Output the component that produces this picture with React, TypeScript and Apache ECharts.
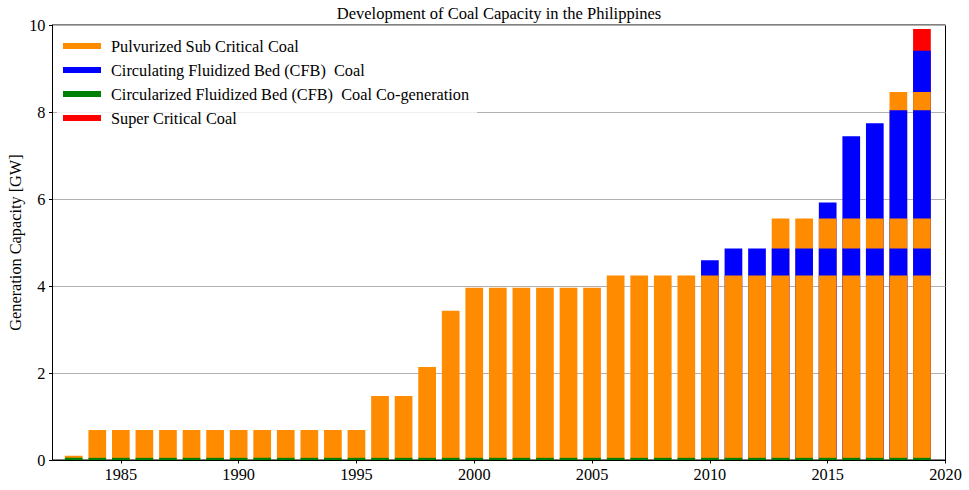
import React, { useEffect, useRef } from "react";
import * as echarts from "echarts";

const years = Array.from({ length: 37 }, (_, i) => 1983 + i);

// per-year stacked segments (GW), bottom to top
const coGeneration = years.map(() => 0.05);
const pulverizedBase = [
  0.05, 0.64, 0.64, 0.64, 0.64, 0.64, 0.64, 0.64, 0.64, 0.64, 0.64, 0.64, 0.64,
  1.42, 1.42, 2.09, 3.38, 3.91, 3.91, 3.91, 3.91, 3.91, 3.91,
  4.19, 4.19, 4.19, 4.19, 4.19, 4.19, 4.19, 4.19, 4.19, 4.19, 4.19, 4.19, 4.19, 4.19,
];
const cfbFirst = [
  0, 0, 0, 0, 0, 0, 0, 0, 0, 0, 0, 0, 0, 0, 0, 0, 0, 0, 0, 0, 0, 0, 0,
  0, 0, 0, 0, 0.35, 0.62, 0.62, 0.62, 0.62, 0.62, 0.62, 0.62, 0.62, 0.62,
];
const pulverizedSecond = [
  0, 0, 0, 0, 0, 0, 0, 0, 0, 0, 0, 0, 0, 0, 0, 0, 0, 0, 0, 0, 0, 0, 0,
  0, 0, 0, 0, 0, 0, 0, 0.69, 0.69, 0.69, 0.69, 0.69, 0.69, 0.69,
];
const cfbSecond = [
  0, 0, 0, 0, 0, 0, 0, 0, 0, 0, 0, 0, 0, 0, 0, 0, 0, 0, 0, 0, 0, 0, 0,
  0, 0, 0, 0, 0, 0, 0, 0, 0, 0.37, 1.89, 2.19, 2.49, 2.49,
];
const pulverizedThird = [
  0, 0, 0, 0, 0, 0, 0, 0, 0, 0, 0, 0, 0, 0, 0, 0, 0, 0, 0, 0, 0, 0, 0,
  0, 0, 0, 0, 0, 0, 0, 0, 0, 0, 0, 0, 0.42, 0.42,
];
const cfbThird = [
  0, 0, 0, 0, 0, 0, 0, 0, 0, 0, 0, 0, 0, 0, 0, 0, 0, 0, 0, 0, 0, 0, 0,
  0, 0, 0, 0, 0, 0, 0, 0, 0, 0, 0, 0, 0, 0.95,
];
const superCritical = [
  0, 0, 0, 0, 0, 0, 0, 0, 0, 0, 0, 0, 0, 0, 0, 0, 0, 0, 0, 0, 0, 0, 0,
  0, 0, 0, 0, 0, 0, 0, 0, 0, 0, 0, 0, 0, 0.5,
];

const xTicks = [1985, 1990, 1995, 2000, 2005, 2010, 2015, 2020];

const TITLE = "Development of Coal Capacity in the Philippines";
const NAME_PC = "Pulvurized Sub Critical Coal";
const NAME_CFB = "Circulating Fluidized Bed (CFB)  Coal";
const NAME_COGEN = "Circularized Fluidized Bed (CFB)  Coal Co-generation";
const NAME_SC = "Super Critical Coal";

const COLORS: Record<string, string> = {
  [NAME_PC]: "#FF8C00",
  [NAME_CFB]: "#0000FF",
  [NAME_COGEN]: "#008000",
  [NAME_SC]: "#FF0000",
};

const FONT = "Liberation Serif";

export default function App() {
  const ref = useRef<HTMLDivElement>(null);
  useEffect(() => {
    document.body.style.margin = "0";
    if (!ref.current) return;
    const chart = echarts.init(ref.current, null, { renderer: "svg" });
    const segments: [string, number[]][] = [
      [NAME_COGEN, coGeneration],
      [NAME_PC, pulverizedBase],
      [NAME_CFB, cfbFirst],
      [NAME_PC, pulverizedSecond],
      [NAME_CFB, cfbSecond],
      [NAME_PC, pulverizedThird],
      [NAME_CFB, cfbThird],
      [NAME_SC, superCritical],
    ];
    // cumulative tops of each segment (bottom to top)
    const running = years.map(() => 0);
    const layers = segments.map(([name, vals]) => {
      const data = years.map((y, i) => {
        const v = vals[i];
        running[i] += v;
        return v > 0 ? [y, +running[i].toFixed(4)] : [y, "-"];
      });
      return { name, data };
    });
    // draw topmost segment first, lower ones overlay it
    const series = layers
      .slice()
      .reverse()
      .map(({ name, data }) => ({
        type: "bar",
        name,
        barWidth: 17.7,
        barGap: "-100%",
        itemStyle: { color: COLORS[name] },
        emphasis: { disabled: true },
        data,
      }));
    chart.setOption({
      animation: false,
      textStyle: { fontFamily: FONT },
      graphic: [
        {
          type: "text",
          x: 499,
          y: 13.5,
          silent: true,
          style: {
            text: TITLE,
            fill: "#000",
            fontFamily: FONT,
            fontSize: 16.5,
            align: "center",
            verticalAlign: "middle",
          },
        },
      ],
      legend: {
        orient: "vertical",
        left: 57,
        top: 31,
        padding: [6, 8, 6, 6],
        backgroundColor: "rgba(255,255,255,0.8)",
        itemWidth: 38,
        itemHeight: 6,
        itemGap: 6,
        icon: "rect",
        selectedMode: false,
        data: [NAME_PC, NAME_CFB, NAME_COGEN, NAME_SC],
        textStyle: {
          fontFamily: FONT,
          fontSize: 16.3,
          lineHeight: 18,
          color: "#000",
          padding: [0, 0, 0, 5],
        },
      },
      grid: {
        left: 52.5,
        right: 23.5,
        top: 25,
        bottom: 30,
        outerBoundsMode: "none",
        containLabel: false,
        show: true,
        borderColor: "#000",
        borderWidth: 1,
        backgroundColor: "transparent",
      },
      xAxis: {
        type: "value",
        min: 1982.1,
        max: 2020,
        splitLine: { show: false },
        axisLine: { show: true, lineStyle: { color: "#000", width: 1 } },
        axisTick: {
          show: true,
          customValues: xTicks,
          length: 3.5,
          lineStyle: { color: "#000" },
        },
        axisLabel: {
          customValues: xTicks,
          formatter: (v: number) => String(v),
          fontFamily: FONT,
          fontSize: 16.3,
          color: "#000",
          margin: 6,
        },
      },
      yAxis: {
        type: "value",
        min: 0,
        max: 10,
        interval: 2,
        name: "Generation Capacity [GW]",
        nameLocation: "middle",
        nameGap: 29,
        nameMoveOverlap: false,
        nameTextStyle: { fontFamily: FONT, fontSize: 16.3, color: "#000" },
        axisLine: { show: true, lineStyle: { color: "#000", width: 1 } },
        axisTick: { show: true, length: 3.5, lineStyle: { color: "#000" } },
        axisLabel: { fontFamily: FONT, fontSize: 16.3, color: "#000", margin: 7 },
        splitLine: { show: true, lineStyle: { color: "#b0b0b0", width: 1 } },
      },
      series,
    });
    return () => chart.dispose();
  }, []);
  return <div ref={ref} style={{ width: 969, height: 490 }} />;
}
